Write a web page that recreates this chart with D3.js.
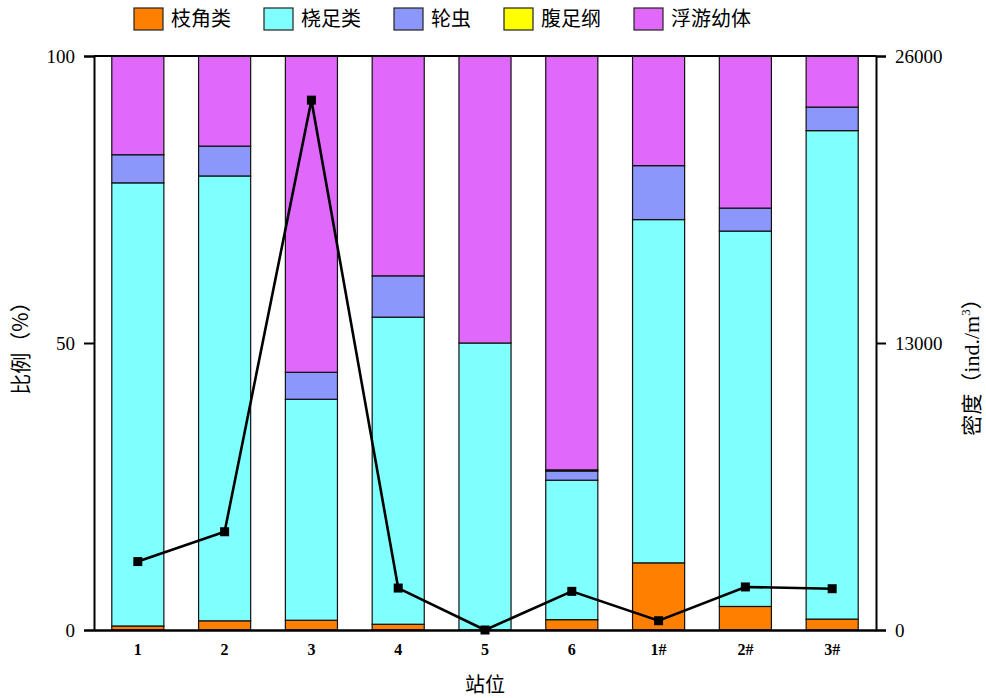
<!DOCTYPE html>
<html>
<head>
<meta charset="utf-8">
<script src="https://cdn.jsdelivr.net/npm/d3@7"></script>
<style>
  html, body { margin: 0; padding: 0; background: #fff; }
  svg { display: block; }
</style>
</head>
<body>
<svg id="chart" width="986" height="698"></svg>
<script>
// Stations and group composition (%) at each station
const stations = ["1", "2", "3", "4", "5", "6", "1#", "2#", "3#"];
const groups = ["枝角类", "桡足类", "轮虫", "腹足纲", "浮游幼体"];
const cladocera = [0.7, 1.6, 1.7, 1.0, 0.0, 1.8, 11.7, 4.1, 1.9];
const copepoda  = [77.2, 77.5, 38.5, 53.5, 50.0, 24.3, 59.8, 65.4, 85.1];
const rotifera  = [4.9, 5.2, 4.7, 7.2, 0.0, 1.6, 9.4, 4.0, 4.1];
const gastropoda = [0, 0, 0, 0, 0, 0.2, 0, 0, 0];
const larvae    = [17.2, 15.7, 55.1, 38.3, 50.0, 72.1, 19.1, 26.5, 8.9];
// Total density (ind./m3)
const density = [3100, 4450, 24000, 1900, 0, 1750, 420, 1950, 1870];
const leftTicks = [0, 50, 100];
const rightTicks = [0, 13000, 26000];
const colors = ["#ff8000", "#80ffff", "#8c97fb", "#ffff00", "#e068fb"];

const rows = stations.map((s, i) => ({
  station: s,
  "枝角类": cladocera[i], "桡足类": copepoda[i], "轮虫": rotifera[i],
  "腹足纲": gastropoda[i], "浮游幼体": larvae[i], density: density[i]
}));

const svg = d3.select("#chart");
const m = { left: 94, right: 876, top: 56, bottom: 630 };

const x = d3.scaleBand().domain(stations).range([m.left, m.right])
  .paddingInner(0.4).paddingOuter(0.205);
const y = d3.scaleLinear().domain([0, 100]).range([m.bottom, m.top]);
const y2 = d3.scaleLinear().domain([0, 26000]).range([m.bottom, m.top]);
const color = d3.scaleOrdinal().domain(groups).range(colors);

const stack = d3.stack().keys(groups)(rows);

// Stacked bars
svg.append("g").selectAll("g").data(stack).join("g")
  .attr("fill", d => color(d.key))
  .selectAll("rect")
  .data(d => d.filter(p => p[1] - p[0] > 0))
  .join("rect")
  .attr("x", d => x(d.data.station))
  .attr("y", d => y(d[1]))
  .attr("width", x.bandwidth())
  .attr("height", d => y(d[0]) - y(d[1]))
  .attr("stroke", "#111")
  .attr("stroke-width", 1.2);

const serif = "'Liberation Serif', 'Times New Roman', serif";
const cjk = "'Noto Sans CJK SC', sans-serif";

// Left axis
const gl = svg.append("g").attr("transform", `translate(${m.left},0)`)
  .call(d3.axisLeft(y).tickValues(leftTicks).tickSize(10).tickPadding(9));
// Right axis
const gr = svg.append("g").attr("transform", `translate(${m.right},0)`)
  .call(d3.axisRight(y2).tickValues(rightTicks).tickFormat(d3.format("d"))
    .tickSize(10).tickPadding(9));
[gl, gr].forEach(g => {
  g.select(".domain").attr("stroke", "#000").attr("stroke-width", 2);
  g.selectAll(".tick line").attr("stroke", "#000").attr("stroke-width", 2);
  g.selectAll(".tick text").attr("font-family", serif).attr("font-size", 19).attr("fill", "#000");
});

// Bottom axis
const gb = svg.append("g").attr("transform", `translate(0,${m.bottom})`)
  .call(d3.axisBottom(x).tickSize(0).tickPadding(14));
gb.select(".domain").attr("stroke", "#000").attr("stroke-width", 2.5);
gb.selectAll(".tick text").attr("font-family", serif).attr("font-size", 16)
  .attr("font-weight", "bold").attr("fill", "#000");

// Top frame
svg.append("line").attr("x1", m.left).attr("x2", m.right)
  .attr("y1", m.top).attr("y2", m.top).attr("stroke", "#000").attr("stroke-width", 2);

// Density line
const line = d3.line().x(d => x(d.station) + x.bandwidth() / 2).y(d => y2(d.density));
svg.append("path").datum(rows).attr("d", line)
  .attr("fill", "none").attr("stroke", "#000").attr("stroke-width", 2.6);
svg.append("g").selectAll("rect").data(rows).join("rect")
  .attr("x", d => x(d.station) + x.bandwidth() / 2 - 4.5)
  .attr("y", d => y2(d.density) - 4.5)
  .attr("width", 9).attr("height", 9).attr("fill", "#000");

// Axis titles
svg.append("text").attr("transform", `translate(28,${(m.top + m.bottom) / 2}) rotate(-90)`)
  .attr("text-anchor", "middle").attr("font-family", cjk).attr("font-size", 21)
  .text("比例（%）");
const rt = svg.append("text").attr("transform", `translate(979,362) rotate(-90)`)
  .attr("text-anchor", "middle").attr("font-family", cjk).attr("font-size", 21);
rt.append("tspan").text("密度（");
rt.append("tspan").attr("font-family", serif).attr("font-size", 22).text("ind./m");
rt.append("tspan").attr("font-family", serif).attr("font-size", 13).attr("dy", -9).text("3");
rt.append("tspan").attr("dy", 9).text("）");
svg.append("text").attr("x", (m.left + m.right) / 2).attr("y", 692)
  .attr("text-anchor", "middle").attr("font-family", cjk).attr("font-size", 20)
  .text("站位");

// Legend
const legend = svg.append("g").attr("transform", "translate(134,8)");
let lx = 0;
groups.forEach(k => {
  const item = legend.append("g").attr("transform", `translate(${lx},0)`);
  item.append("rect").attr("width", 29).attr("height", 22)
    .attr("fill", color(k)).attr("stroke", "#222").attr("stroke-width", 1.2);
  const t = item.append("text").attr("x", 37).attr("y", 18)
    .attr("font-family", cjk).attr("font-size", 20).text(k);
  lx += 37 + t.node().getComputedTextLength() + 33;
});
</script>
</body>
</html>
